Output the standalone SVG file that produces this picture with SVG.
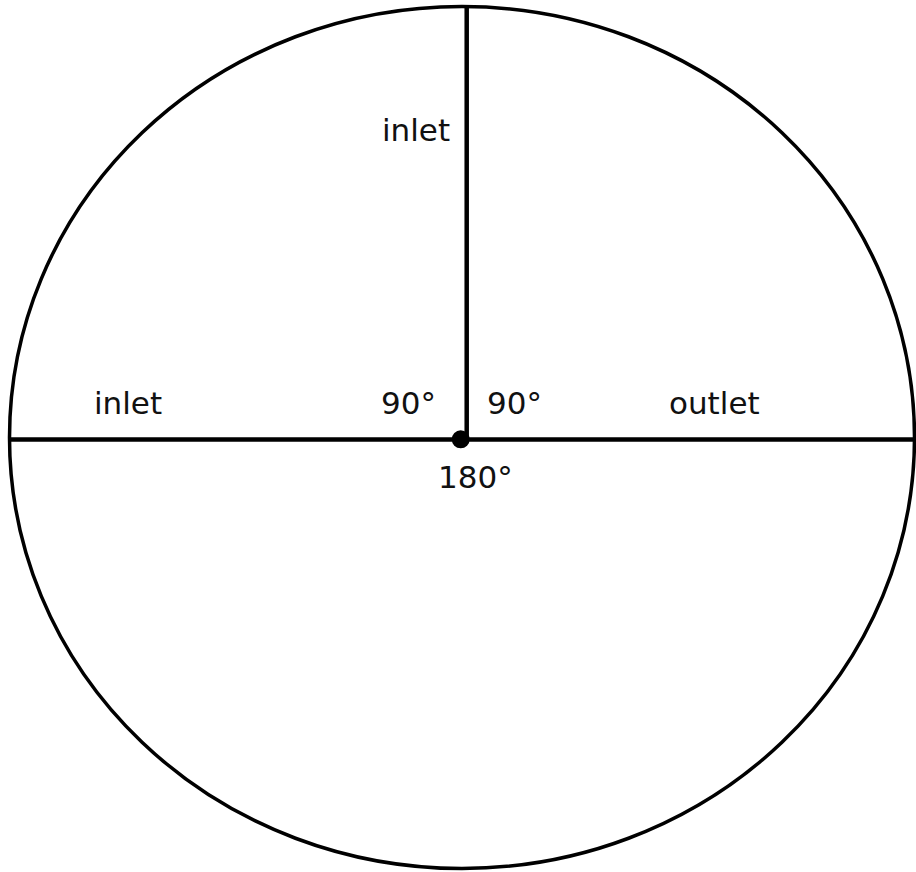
<svg xmlns="http://www.w3.org/2000/svg" width="916" height="872" viewBox="0 0 916 872">
<style>
.t{font-family:"DejaVu Sans",Verdana,sans-serif;font-size:31px;fill:#111}
.ln{stroke:#000;stroke-width:4.5;fill:none}
</style>
<rect width="916" height="872" fill="#fff"/>
<g id="circle">
<ellipse cx="462" cy="437.5" rx="452.5" ry="431" fill="none" stroke="#000" stroke-width="3.5"/>
</g>
<g id="connectors">
<line class="ln" x1="10" y1="439.5" x2="916" y2="439.5"/>
<line class="ln" x1="466.7" y1="6" x2="466.7" y2="439.5"/>
</g>
<g id="center">
<circle cx="460.7" cy="439.3" r="9" fill="#000"/>
</g>
<g id="labels">
<text class="t" x="382" y="141">inlet</text>
<text class="t" x="94" y="414">inlet</text>
<text class="t" x="381" y="414">90°</text>
<text class="t" x="487" y="414">90°</text>
<text class="t" x="669" y="414">outlet</text>
<text class="t" x="438" y="488">180°</text>
</g>
</svg>
